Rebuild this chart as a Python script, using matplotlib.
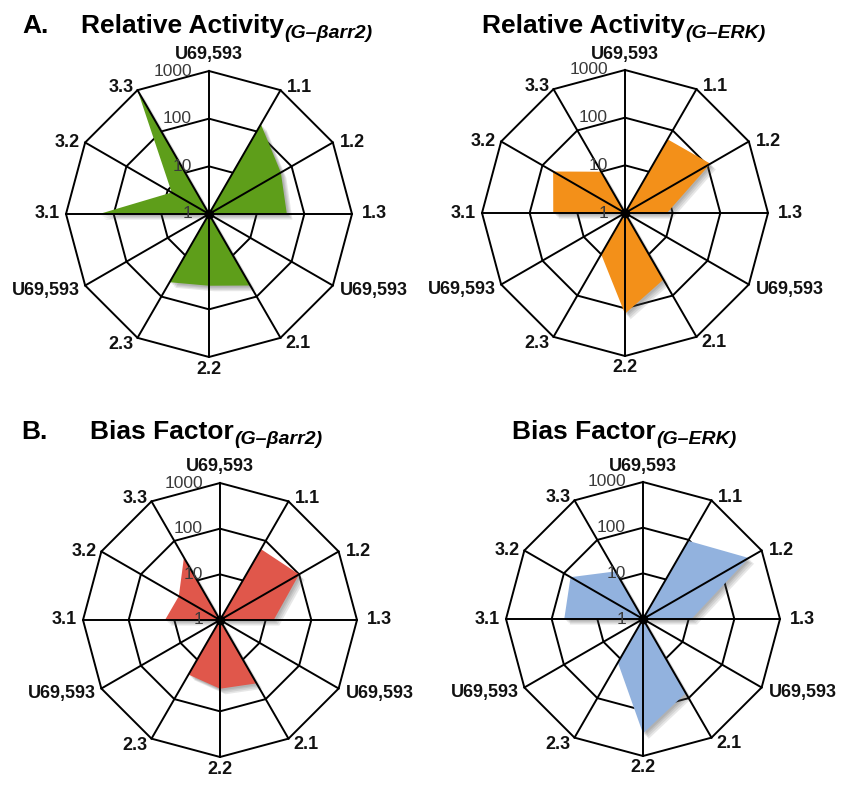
import numpy as np
import matplotlib
matplotlib.use("Agg")
import matplotlib.pyplot as plt
import matplotlib.patheffects as pe

plt.rcParams['font.family'] = ['Liberation Sans', 'DejaVu Sans']

# ---------------- data ----------------
spoke_labels = ['U69,593', '1.1', '1.2', '1.3', 'U69,593', '2.1',
                '2.2', '2.3', 'U69,593', '3.1', '3.2', '3.3']
ring_values = [1, 10, 100, 1000]
ring_labels = ['1', '10', '100', '1000']

rel_activity_barr2 = [1, 150, 55, 43, 1, 54, 32, 45, 1, 200, 8, 1000]
rel_activity_erk = [1, 61, 117, 7.6, 1, 41, 130, 10, 1, 32, 55, 10]
bias_factor_barr2 = [1, 62, 100, 15, 1, 40, 32, 24, 1, 16, 11, 38]
bias_factor_erk = [1, 95, 470, 11.5, 1, 75, 320, 12.6, 1, 53, 68, 16]

titles = ['Relative Activity', 'Relative Activity', 'Bias Factor', 'Bias Factor']
subtitles = ['(G\u2013\u03b2arr2)', '(G\u2013ERK)', '(G\u2013\u03b2arr2)', '(G\u2013ERK)']
colors = ['#5E9E1A', '#F39019', '#E0574B', '#92B2DE']
series = [rel_activity_barr2, rel_activity_erk, bias_factor_barr2, bias_factor_erk]

W, H = 841, 785
fig = plt.figure(figsize=(W / 100, H / 100), dpi=100)
fig.patch.set_facecolor('white')


def fx(x):
    return x / W


def fy(y):
    return 1 - y / H


# center (px) and radius (px) of each radar
centers = [(209, 214, 143), (625, 213, 143), (220, 620, 137), (643, 619, 137)]

# label offsets (pixels) and alignments per spoke
lab_off = [(0, 16, 'center'), (6, 3, 'left'), (7, 0, 'left'), (10, 0, 'left'),
           (7, -5, 'left'), (5, -6, 'left'), (0, -12, 'center'), (-4, -7, 'right'),
           (-5, -5, 'right'), (-6, 0, 'right'), (-5, 0, 'right'), (-4, 3, 'right')]

n = len(spoke_labels)
theta = np.arange(n) * 2 * np.pi / n
theta_c = np.append(theta, theta[0])

shadow = [pe.SimplePatchShadow(offset=(o, -o), shadow_rgbFace='0.3', alpha=0.13)
          for o in (4.0, 3.0, 2.0, 1.2)] + [pe.Normal()]

for (cx, cy, R), vals, col in zip(centers, series, colors):
    ax = fig.add_axes([fx(cx - R), fy(cy + R), 2 * R / W, 2 * R / H],
                      projection='polar')
    ax.set_theta_zero_location('N')
    ax.set_theta_direction(-1)
    ax.set_rscale('log')
    ax.set_rlim(1, 1000)
    ax.grid(False)
    ax.spines['polar'].set_visible(False)
    ax.set_xticks([])
    ax.set_yticks([])
    ax.patch.set_alpha(0)

    # polygon rings
    for v in ring_values[1:]:
        ax.plot(theta_c, [v] * (n + 1), color='black', lw=1.4, zorder=1,
                clip_on=False, solid_joinstyle='miter')
    # data fill
    vals_c = np.append(vals, vals[0])
    ax.fill(theta_c, vals_c, color=col, zorder=2, clip_on=False, lw=0,
            path_effects=shadow)
    # spokes
    for t in theta:
        ax.plot([t, t], [1, 1000], color='black', lw=1.4, zorder=3, clip_on=False)
    ax.plot([0], [1], 'o', color='black', ms=6, zorder=4, clip_on=False)

    # ring value labels
    for v, lab in zip(ring_values, ring_labels):
        ax.annotate(lab, xy=(0, v), xytext=(-17, 0), textcoords='offset pixels',
                    ha='right', va='center', fontsize=12.5, color='#3a3a3a',
                    zorder=5, annotation_clip=False)
    # spoke labels
    for t, lab, (dx, dy, ha) in zip(theta, spoke_labels, lab_off):
        ax.annotate(lab, xy=(t, 1000), xytext=(dx, dy), textcoords='offset pixels',
                    ha=ha, va='center', fontsize=13, fontweight='bold',
                    color='#111111', annotation_clip=False)

# titles
fig.text(fx(22), fy(33), 'A.', fontsize=19, fontweight='bold', va='baseline')
fig.text(fx(21), fy(439), 'B.', fontsize=19, fontweight='bold', va='baseline')

title_pos = [(81, 33), (482, 33), (90, 439), (512, 439)]
for (x, y), t, s in zip(title_pos, titles, subtitles):
    tt = fig.text(fx(x), fy(y), t, fontsize=19, fontweight='bold', va='baseline')
    fig.canvas.draw()
    bb = tt.get_window_extent()
    fig.text(bb.x1 / W + 0.001, fy(y + 5), s, fontsize=14, fontweight='bold',
             fontstyle='italic', va='baseline')

fig.savefig('out.png', dpi=100, facecolor='white')
